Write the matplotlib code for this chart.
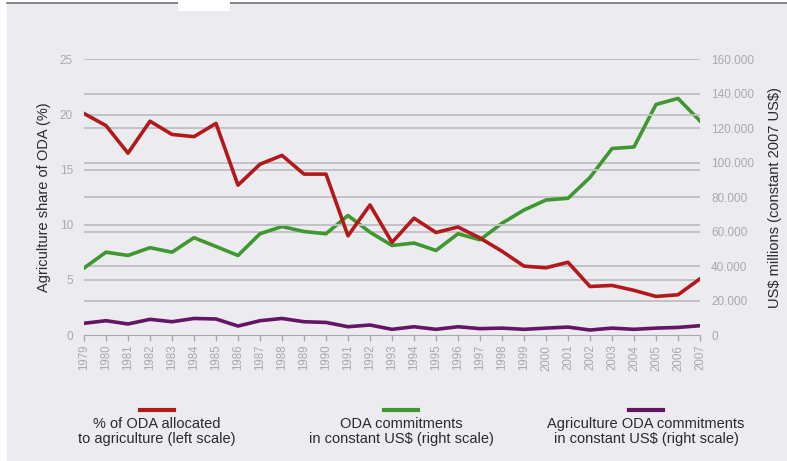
import numpy as np
import matplotlib
matplotlib.use("Agg")
import matplotlib.pyplot as plt
from matplotlib.lines import Line2D
from matplotlib.patches import Rectangle
from matplotlib.ticker import FuncFormatter

# ---------------------------------------------------------------------------
# Data
# ---------------------------------------------------------------------------
years = list(range(1979, 2008))

# % of ODA allocated to agriculture (left scale)
agri_share = [20.1, 19.0, 16.5, 19.4, 18.2, 18.0, 19.2, 13.6, 15.5, 16.3,
              14.6, 14.6, 9.0, 11.8, 8.4, 10.6, 9.3, 9.8, 8.8, 7.6,
              6.25, 6.1, 6.6, 4.4, 4.5, 4.05, 3.5, 3.65, 5.1]

# ODA commitments, constant 2007 US$ millions (right scale)
oda_total = [38900, 48100, 46200, 50700, 48100, 56500, 51400, 46200, 58800, 63000,
             60100, 58800, 69400, 59700, 52000, 53400, 49100, 58800, 55300, 64900,
             72600, 78400, 79400, 91500, 108300, 109200, 133900, 137400, 124300]

# Agriculture ODA commitments, constant 2007 US$ millions (right scale)
oda_agri = [6800, 8300, 6400, 9100, 7700, 9600, 9300, 5200, 8300, 9600,
            7700, 7300, 4800, 5800, 3300, 4800, 3300, 4800, 3700, 4000,
            3300, 4000, 4600, 2900, 4000, 3300, 4000, 4400, 5400]

left_ticks = [0, 5, 10, 15, 20, 25]
right_ticks = [0, 20000, 40000, 60000, 80000, 100000, 120000, 140000, 160000]

legend_labels = ["% of ODA allocated\nto agriculture (left scale)",
                 "ODA commitments\nin constant US\\$ (right scale)",
                 "Agriculture ODA commitments\nin constant US\\$ (right scale)"]

RED, GREEN, PURPLE = "#b2191b", "#3f982f", "#651565"
BG = "#ececf0"
GRID = "#bfbfc3"
TICK = "#a9a9ad"

plt.rcParams["font.family"] = ["Liberation Sans", "DejaVu Sans"]

fig = plt.figure(figsize=(7.87, 4.61), dpi=100)
fig.patch.set_facecolor("white")

# light grey panel with a dark rule on top and a white notch
fig.patches.append(Rectangle((7 / 787, 0), 1, 1 - 4 / 461, transform=fig.transFigure,
                             facecolor=BG, edgecolor="none", zorder=-10))
fig.lines.append(Line2D([7 / 787, 1], [1 - 3 / 461] * 2, transform=fig.transFigure,
                        color="#707070", lw=1.2))
fig.patches.append(Rectangle((178 / 787, 1 - 11 / 461), 52 / 787, 11 / 461,
                             transform=fig.transFigure, facecolor="white",
                             edgecolor="none", zorder=5))

ax = fig.add_axes([84 / 787, 126 / 461, 616 / 787, 275.5 / 461])
ax2 = ax.twinx()
ax.set_facecolor("none")
ax2.set_facecolor("none")

for t in left_ticks[1:]:
    ax.axhline(t, color=GRID, lw=1.3, zorder=1)
for t in right_ticks[1:]:
    ax2.axhline(t, color=GRID, lw=1.3, zorder=1)

ax.plot(years, agri_share, color=RED, lw=2.6, zorder=4)
ax2.plot(years, oda_total, color=GREEN, lw=2.6, zorder=3)
ax2.plot(years, oda_agri, color=PURPLE, lw=2.6, zorder=3)
ax.set_zorder(ax2.get_zorder() + 1)

ax.set_xlim(1979, 2007)
ax.set_ylim(0, 25)
ax2.set_ylim(0, 160000)

ax.set_yticks(left_ticks)
ax2.set_yticks(right_ticks)
ax2.yaxis.set_major_formatter(FuncFormatter(lambda v, p: "0" if v == 0 else f"{int(v):,}".replace(",", ".")))
ax.set_xticks(years)
ax.set_xticklabels([str(y) for y in years], rotation=90)

for a in (ax, ax2):
    for s in a.spines.values():
        s.set_visible(False)
ax.spines["bottom"].set_visible(True)
ax.spines["bottom"].set_color(TICK)
ax.tick_params(axis="x", colors=TICK, labelsize=8.3, length=4, width=1, pad=3)
ax.tick_params(axis="y", colors=TICK, labelsize=8.5, length=0, pad=8)
ax2.tick_params(axis="y", colors=TICK, labelsize=8.5, length=0, pad=8)

ax.set_ylabel("Agriculture share of ODA (%)", fontsize=10.5, color="#2a2a2a", labelpad=6)
ax2.set_ylabel("US\\$ millions (constant 2007 US\\$)", fontsize=10.5, color="#2a2a2a",
               labelpad=10)

# legend below the chart
legend_x = [157 / 787, 401 / 787, 646 / 787]
for x, lab, col in zip(legend_x, legend_labels, [RED, GREEN, PURPLE]):
    fig.lines.append(Line2D([x - 17 / 787, x + 17 / 787], [1 - 410 / 461] * 2,
                            transform=fig.transFigure, color=col, lw=3))
    fig.text(x, 1 - 417 / 461, lab, ha="center", va="top", fontsize=10.5,
             color="#2a2a2a", linespacing=1.1)

fig.savefig("out.png", dpi=100)
